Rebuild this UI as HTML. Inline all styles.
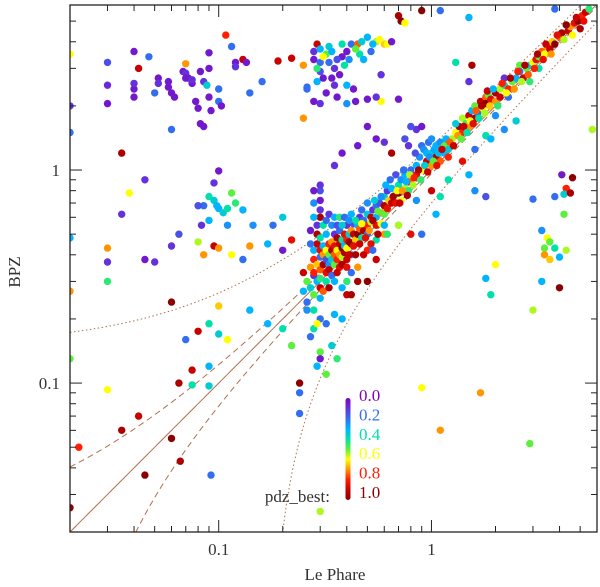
<!DOCTYPE html>
<html><head><meta charset="utf-8">
<style>
html,body{margin:0;padding:0;background:#fff;width:600px;height:587px;overflow:hidden;}
svg{display:block;font-family:"Liberation Serif",serif;}
</style></head>
<body>
<svg id="chart" width="600" height="587" viewBox="0 0 600 587" xmlns="http://www.w3.org/2000/svg">
<g id="lines"></g>
<g id="pts"></g>
<g id="axes"></g>
<g id="cbar"></g>
<text x="335" y="580" font-size="17" text-anchor="middle" fill="#333">Le Phare</text>
<text x="0" y="0" font-size="17" text-anchor="middle" fill="#333" transform="translate(20,272) rotate(-90)">BPZ</text>
</svg>
<script>
// axis ranges
const xDomain = [0.02, 6.0];
const yDomain = [0.02, 5.95];
const xMajorTicks = [0.1, 1];
const xTickLabels = ["0.1", "1"];
const yMajorTicks = [0.1, 1];
const yTickLabels = ["0.1", "1"];
const minorTicks = [0.02,0.03,0.04,0.05,0.06,0.07,0.08,0.09,0.2,0.3,0.4,0.5,0.6,0.7,0.8,0.9,2,3,4,5];
const cbarValues = [0.0, 0.2, 0.4, 0.6, 0.8, 1.0];
const cbarLabels = ["0.0","0.2","0.4","0.6","0.8","1.0"];

// data: [LePhare z, BPZ z, pdz_best]
const edgePoints = [[0.02,3.5,0.6],[0.02,2.0,0.1],[0.02,1.5,0.2],[0.02,0.48,0.3],[0.02,0.27,0.7],[0.02,0.13,0.5],[0.02,0.026,1.0],[0.03,0.43,0.7],[0.03,0.37,0.1],[0.03,0.3,0.45],[0.03,0.093,0.6]];
const topLeftCluster = [[0.03,2.5,0.08],[0.03,2.05,0.05],[0.03,3.2,0.15],[0.04,2.4,0.05],[0.04,2.55,0.1],[0.04,2.2,0.05],[0.04,3.6,0.05],[0.042,3.0,0.9],[0.047,3.4,0.2],[0.05,2.3,0.2],[0.052,2.7,0.05],[0.052,2.55,0.1],[0.058,2.6,0.05],[0.058,2.45,0.05],[0.06,2.3,0.05],[0.062,2.2,0.05],[0.068,2.9,0.05],[0.07,2.85,0.1],[0.07,2.7,0.05],[0.072,2.7,0.05],[0.075,2.55,0.05],[0.075,2.65,0.1],[0.07,3.15,0.7],[0.078,2.1,0.05],[0.08,1.95,0.05],[0.082,1.65,0.05],[0.085,1.6,0.05],[0.082,2.9,0.05],[0.085,2.6,0.1],[0.088,2.5,0.35],[0.09,3.0,0.05],[0.09,3.55,0.05],[0.09,2.2,0.05],[0.092,1.9,0.05],[0.1,2.4,0.2],[0.1,2.1,0.2],[0.103,2.0,0.05],[0.06,1.55,0.2],[0.108,4.3,0.8],[0.115,3.8,0.2],[0.13,3.3,0.9],[0.12,3.2,0.05],[0.135,3.2,0.05],[0.14,2.3,0.2],[0.16,2.6,0.2],[0.19,3.25,0.9],[0.22,3.35,0.9],[0.25,3.1,0.7],[0.26,2.45,0.2],[0.25,1.75,0.7],[0.12,3.05,0.1]];
const midLeftCluster = [[0.09,0.75,0.4],[0.095,0.72,0.35],[0.098,0.68,0.3],[0.1,0.66,0.3],[0.105,0.63,0.35],[0.11,0.66,0.4],[0.115,0.78,0.5],[0.12,0.7,0.45],[0.13,0.65,0.3],[0.085,0.68,0.2],[0.08,0.68,0.15],[0.095,0.87,0.1],[0.1,0.99,0.05],[0.09,0.58,0.3],[0.083,0.55,0.1],[0.11,0.55,0.25],[0.145,0.55,0.25],[0.065,0.5,0.15],[0.08,0.46,0.55],[0.095,0.44,0.9],[0.1,0.43,0.7],[0.085,0.4,0.7],[0.06,0.44,0.1],[0.05,0.37,0.1],[0.045,0.38,0.05],[0.035,0.62,0.1],[0.045,0.9,0.1],[0.035,1.2,0.95],[0.038,0.78,0.6],[0.115,0.4,0.6],[0.13,0.38,0.2],[0.14,0.44,0.7],[0.06,0.24,1.0],[0.1,0.23,0.65],[0.18,0.55,0.2],[0.2,0.6,0.35],[0.17,0.45,0.3],[0.2,0.42,0.05],[0.22,0.47,0.85]];
const lowerLeft = [[0.09,0.19,0.4],[0.08,0.175,0.9],[0.1,0.17,0.35],[0.07,0.16,0.2],[0.11,0.16,0.6],[0.09,0.12,0.3],[0.075,0.098,0.4],[0.09,0.097,0.35],[0.075,0.115,0.9],[0.065,0.1,0.95],[0.042,0.07,0.9],[0.035,0.06,0.95],[0.06,0.055,1.0],[0.045,0.037,1.0],[0.022,0.05,0.8],[0.066,0.043,0.95],[0.092,0.037,0.2],[0.14,0.22,0.3],[0.17,0.19,0.3],[0.2,0.18,0.4],[0.22,0.15,0.5]];
const mainBand = [[0.25,0.27,0.3],[0.25,0.33,0.9],[0.26,0.3,0.5],[0.26,0.24,0.2],[0.27,0.35,0.7],[0.27,0.28,0.35],[0.28,0.42,0.3],[0.28,0.38,0.8],[0.28,0.32,0.1],[0.28,0.26,0.5],[0.29,0.45,0.9],[0.29,0.5,0.95],[0.29,0.55,0.1],[0.29,0.36,0.65],[0.29,0.3,0.3],[0.3,0.6,0.95],[0.3,0.65,0.1],[0.3,0.48,0.4],[0.3,0.42,0.85],[0.3,0.39,0.2],[0.3,0.34,0.75],[0.3,0.31,0.45],[0.3,0.28,0.9],[0.3,0.25,0.3],[0.31,0.4,0.7],[0.31,0.44,0.3],[0.31,0.36,0.95],[0.32,0.42,0.6],[0.32,0.38,0.15],[0.32,0.33,0.85],[0.32,0.3,0.4],[0.33,0.45,0.8],[0.33,0.4,0.5],[0.33,0.36,0.25],[0.33,0.34,0.9],[0.34,0.46,0.7],[0.34,0.42,0.95],[0.34,0.38,0.35],[0.34,0.32,0.2],[0.35,0.5,0.1],[0.35,0.44,0.85],[0.35,0.4,0.75],[0.35,0.36,0.5],[0.35,0.3,0.3],[0.36,0.48,0.95],[0.36,0.42,0.6],[0.36,0.38,0.8],[0.37,0.52,0.2],[0.37,0.45,0.9],[0.37,0.4,0.7],[0.37,0.35,0.85],[0.38,0.47,0.4],[0.38,0.43,1.0],[0.38,0.39,0.55],[0.39,0.5,0.85],[0.39,0.44,0.3],[0.39,0.41,0.95],[0.4,0.55,0.1],[0.4,0.47,0.8],[0.4,0.43,0.6],[0.4,0.38,0.9],[0.41,0.5,0.35],[0.41,0.46,0.95],[0.42,0.52,0.7],[0.42,0.45,1.0],[0.42,0.4,0.25],[0.43,0.56,0.15],[0.43,0.5,0.9],[0.44,0.47,0.65],[0.45,0.55,0.3],[0.45,0.5,1.0],[0.46,0.6,0.1],[0.46,0.53,0.75],[0.47,0.48,0.4],[0.48,0.58,0.2],[0.48,0.52,0.95],[0.5,0.62,0.35],[0.5,0.55,0.8],[0.5,0.5,0.2],[0.52,0.6,0.9],[0.52,0.57,0.55],[0.53,0.65,0.1],[0.55,0.6,0.3],[0.55,0.68,0.2],[0.55,0.55,0.85],[0.57,0.7,0.15],[0.58,0.63,0.7],[0.6,0.75,0.35],[0.6,0.68,0.95],[0.6,0.62,0.5],[0.62,0.8,0.1],[0.63,0.72,0.65],[0.65,0.7,0.9],[0.65,0.82,0.3],[0.67,0.76,0.5],[0.68,0.7,0.85],[0.7,0.85,0.4],[0.7,0.78,1.0],[0.72,0.72,0.6],[0.72,0.9,0.25],[0.75,0.82,0.55],[0.75,0.95,0.3],[0.78,0.88,0.9],[0.78,0.8,0.45],[0.8,1.0,0.2],[0.8,0.9,0.75],[0.82,0.85,0.55],[0.85,1.05,0.3],[0.85,0.95,0.85],[0.88,1.15,0.25],[0.9,1.0,0.6],[0.9,1.3,0.2],[0.92,1.25,0.25],[0.95,1.1,0.9],[0.95,1.2,0.3],[0.97,1.35,0.2],[1.0,1.2,0.35],[1.0,1.05,0.7],[1.0,1.4,0.25],[1.03,1.25,0.28],[1.05,1.15,0.95],[1.05,1.3,0.3],[1.08,1.2,0.32],[1.1,1.1,0.75],[1.1,1.35,0.25],[1.15,1.2,0.3],[1.15,1.3,0.5],[1.2,1.25,0.35],[1.2,1.15,0.8],[1.25,1.4,0.55],[1.3,1.5,0.6],[0.85,1.55,0.1],[0.8,1.6,0.15],[0.9,1.6,0.05],[0.75,1.4,0.15],[0.78,1.3,0.1],[1.35,1.6,0.95],[1.4,1.5,0.8],[1.4,1.75,0.55],[1.45,1.65,0.45],[1.5,1.8,0.9],[1.5,1.6,0.7],[1.55,1.9,0.3],[1.6,1.75,0.95],[1.6,2.0,0.5],[1.65,1.85,0.2],[1.7,2.1,0.9],[1.75,1.95,0.6],[1.8,2.2,0.75],[1.8,2.05,1.0],[1.85,2.25,0.5],[1.9,2.15,0.85],[2.0,2.3,0.95],[2.0,2.1,0.7],[2.1,2.4,0.55],[2.1,2.2,0.9],[2.2,2.5,0.4],[2.3,2.4,0.8],[2.4,2.6,0.5],[2.5,2.7,0.3],[2.6,2.9,0.2],[2.7,2.7,0.9],[2.8,3.0,0.5],[2.9,3.1,0.35],[3.0,3.2,0.6],[3.1,3.3,0.85],[3.2,3.4,0.5],[3.3,3.6,0.75],[3.4,3.5,0.6],[3.5,3.8,0.7],[3.6,3.7,0.9],[3.7,4.0,0.65],[3.8,3.9,1.0],[4.0,4.2,0.75],[4.1,4.4,0.95],[4.2,4.1,0.55],[4.4,4.5,0.9],[4.5,4.7,0.7],[4.7,4.9,0.85],[4.9,5.0,1.0],[5.1,5.3,0.8],[5.3,5.5,0.9],[5.5,5.7,0.45],[3.2,3.0,0.4],[2.9,2.6,0.45],[4.6,4.3,0.6],[5.0,4.6,0.95],[0.37,0.35,0.85],[0.45,0.3,0.95],[0.5,0.3,1.0],[0.55,0.38,0.9],[0.28,0.33,0.8],[0.26,0.22,0.25],[0.38,0.28,0.3],[0.4,0.3,0.45],[0.42,0.33,0.2],[0.45,0.35,0.7],[0.5,0.42,0.8],[0.55,0.47,0.4],[0.7,0.55,0.55],[0.6,0.5,0.7]];
const bandExtra = [[0.27,0.45,0.2],[0.27,0.52,0.05],[0.28,0.6,0.3],[0.28,0.7,0.25],[0.28,0.8,0.05],[0.28,0.22,0.4],[0.29,0.19,0.6],[0.3,0.72,0.05],[0.3,0.85,0.1],[0.31,0.55,0.4],[0.31,0.27,0.75],[0.32,0.5,0.3],[0.32,0.58,0.2],[0.33,0.62,0.1],[0.33,0.28,0.95],[0.34,0.55,0.25],[0.35,0.6,0.3],[0.36,0.55,0.15],[0.36,0.33,0.9],[0.37,0.6,0.45],[0.38,0.55,0.35],[0.38,0.36,0.95],[0.39,0.6,0.2],[0.4,0.35,0.85],[0.41,0.58,0.25],[0.41,0.4,0.9],[0.42,0.62,0.3],[0.43,0.44,0.85],[0.44,0.58,0.4],[0.44,0.4,0.95],[0.46,0.45,0.9],[0.47,0.65,0.2],[0.47,0.56,0.6],[0.49,0.48,0.85],[0.5,0.7,0.25],[0.51,0.52,0.7],[0.53,0.58,0.95],[0.54,0.72,0.35],[0.56,0.64,0.5],[0.58,0.75,0.25],[0.58,0.56,0.6],[0.61,0.85,0.3],[0.62,0.66,0.85],[0.64,0.9,0.2],[0.66,0.75,0.95],[0.68,0.95,0.15],[0.69,0.8,0.6],[0.71,0.7,0.9],[0.73,0.8,0.7],[0.74,1.0,0.2],[0.76,0.88,0.3],[0.77,0.76,0.95],[0.79,0.95,0.55],[0.83,0.92,0.8],[0.84,1.2,0.15],[0.87,1.0,0.95],[0.89,0.9,0.45],[0.93,1.05,0.35],[0.96,0.98,0.9],[0.98,1.15,0.25],[1.02,1.1,0.5],[1.06,1.05,0.85],[1.12,1.25,0.9],[1.17,1.4,0.3],[1.22,1.35,0.75],[1.27,1.3,0.9],[1.3,1.65,0.35],[1.33,1.45,0.7],[1.38,1.4,0.5],[1.42,1.6,0.9],[1.47,1.5,0.4],[1.52,1.7,0.6],[1.57,1.65,0.85],[1.62,1.9,0.75],[1.67,1.75,0.4],[1.72,2.0,0.95],[1.78,1.85,0.55],[1.83,2.35,0.9],[1.88,2.0,0.65],[1.95,2.4,0.3],[2.05,2.0,0.45],[2.15,2.55,0.8],[2.25,2.3,0.6],[2.35,2.7,0.95],[2.45,2.4,0.7],[2.55,2.9,0.8],[2.65,2.6,0.55],[2.75,3.1,0.95],[2.85,2.8,0.75],[3.05,3.0,0.8],[3.15,3.5,0.95],[3.35,3.3,0.85],[3.45,3.9,0.9],[3.65,3.5,0.7],[3.9,4.3,0.85],[4.3,4.8,1.0],[4.8,5.2,0.9],[5.2,5.0,0.85],[0.52,0.45,0.85],[0.56,0.5,0.95],[0.6,0.55,0.3],[0.62,0.5,0.45],[0.48,0.4,0.9],[0.53,0.42,0.2]];
const topCluster = [[0.28,3.3,0.05],[0.28,3.6,0.1],[0.29,3.9,0.9],[0.3,3.7,0.3],[0.3,3.2,0.2],[0.3,2.9,0.15],[0.31,2.7,0.05],[0.32,3.5,0.5],[0.33,3.2,0.2],[0.33,3.8,0.35],[0.34,2.7,0.05],[0.35,2.5,0.1],[0.35,3.0,0.1],[0.36,2.2,0.05],[0.38,3.9,0.4],[0.38,3.4,0.05],[0.4,3.6,0.05],[0.4,2.5,0.3],[0.42,3.9,0.2],[0.43,2.4,0.05],[0.44,2.1,0.05],[0.45,3.9,0.75],[0.46,3.5,0.4],[0.48,3.3,0.3],[0.5,4.2,0.3],[0.52,3.6,0.2],[0.55,4.0,0.55],[0.58,2.8,0.1],[0.58,2.1,0.6],[0.6,3.9,0.65],[0.62,3.9,0.6],[0.65,4.0,0.05],[0.28,2.1,0.05],[0.3,2.05,0.1],[0.26,2.4,0.2],[0.4,2.05,0.25],[0.5,2.15,0.05],[0.55,2.2,0.1],[0.7,5.3,0.95],[0.72,5.0,1.0],[0.75,4.9,0.6],[0.9,5.6,1.0],[1.3,3.2,0.4],[1.55,3.1,0.95],[2.2,2.7,0.1],[1.5,2.6,0.1],[0.7,2.15,0.05],[0.55,1.4,0.05],[0.6,1.35,0.1],[0.65,1.2,0.95],[0.5,1.6,0.05],[0.45,1.3,0.05],[0.38,1.2,0.05],[0.35,1.05,0.1],[0.3,0.8,0.15],[0.29,3.0,0.45],[0.31,3.4,0.6],[0.34,3.6,0.3],[0.36,3.3,0.15],[0.37,2.8,0.05],[0.39,3.1,0.4],[0.41,3.3,0.25],[0.44,3.7,0.5],[0.47,4.0,0.35],[0.53,3.9,0.3],[0.57,4.1,0.6],[0.32,2.3,0.05],[0.29,2.6,0.3]];
const rightScatter = [[4.1,0.95,0.05],[4.6,0.92,1.0],[4.3,0.82,0.8],[4.2,0.77,0.35],[4.5,0.78,0.95],[3.8,0.75,0.2],[3.0,0.73,0.2],[4.2,0.62,0.5],[3.3,0.52,0.25],[3.5,0.48,0.6],[3.6,0.46,0.5],[3.8,0.43,0.4],[3.4,0.43,0.5],[4.3,0.42,0.55],[3.4,0.4,0.7],[4.0,0.39,0.3],[3.6,0.38,0.65],[3.3,0.3,0.3],[4.0,0.28,1.0],[3.0,0.22,0.55],[1.9,0.26,0.4],[1.8,0.31,0.3],[2.0,0.36,0.6],[1.7,0.09,0.7],[1.1,0.06,0.7],[2.9,0.052,0.5],[0.9,0.095,0.6],[0.62,0.017,0.8],[0.3,0.025,0.55],[0.24,0.1,1.0],[0.24,0.09,0.2],[0.24,0.072,0.2],[5.7,1.55,0.55],[2.6,3.1,0.5],[2.3,2.2,0.2],[2.5,1.7,0.35],[2.2,1.55,0.25],[2.0,1.8,0.25],[1.8,1.45,0.4],[1.9,1.4,0.3],[1.5,0.95,0.3],[1.6,0.8,0.25],[1.4,1.1,0.85],[1.2,0.9,0.4],[1.8,0.75,0.15],[1.6,1.25,0.2],[1.1,0.75,0.4],[1.05,0.62,0.3],[0.9,0.5,0.2],[0.8,0.5,0.85],[0.85,0.72,0.25],[1.0,0.8,0.9],[0.7,0.55,0.45],[0.35,0.21,0.3],[0.38,0.2,0.3],[0.4,0.26,0.9],[0.42,0.26,0.95],[0.32,0.19,0.2],[0.3,0.2,0.2],[0.34,0.15,0.35],[0.28,0.18,0.4],[0.3,0.14,0.5],[0.32,0.11,0.5],[0.3,0.13,0.05],[0.29,0.12,0.3],[0.27,0.165,0.2],[0.36,0.13,0.45],[1.5,5.2,0.3],[1.1,5.6,0.2],[3.8,5.7,0.2]];

const L = 70, R = 597, T = 5, B = 532;
const NS = "http://www.w3.org/2000/svg";
function xs(v){ return L + (Math.log10(v) - Math.log10(xDomain[0])) / (Math.log10(xDomain[1]) - Math.log10(xDomain[0])) * (R - L); }
function ys(v){ return B - (Math.log10(v) - Math.log10(yDomain[0])) / (Math.log10(yDomain[1]) - Math.log10(yDomain[0])) * (B - T); }
function mk(tag, attrs, parent){ const e = document.createElementNS(NS, tag); for (const k in attrs) e.setAttribute(k, attrs[k]); parent.appendChild(e); return e; }
const stops = [[0,[128,0,192]],[0.1,[100,50,220]],[0.2,[50,110,240]],[0.3,[0,180,255]],[0.4,[0,225,170]],[0.5,[90,240,60]],[0.6,[255,255,0]],[0.7,[255,150,0]],[0.8,[255,30,0]],[0.9,[200,0,0]],[1.0,[139,0,0]]];
function color(p){ p = Math.max(0, Math.min(1, p)); for (let i = 0; i < stops.length - 1; i++){ const a = stops[i], b = stops[i+1]; if (p <= b[0]){ const t = (p - a[0]) / (b[0] - a[0]); const c = a[1].map((v,j) => Math.round(v + (b[1][j] - v) * t)); return "rgb(" + c.join(",") + ")"; } } return "rgb(139,0,0)"; }

const defs = mk("defs", {}, document.getElementById("chart"));
const cp = mk("clipPath", {id:"clip"}, defs);
mk("rect", {x:L, y:T, width:R-L, height:B-T}, cp);

const lg = document.getElementById("lines");
lg.setAttribute("clip-path", "url(#clip)");
function curve(f, dash, name){
  let d = "";
  for (let i = 0; i <= 300; i++){
    const lx = Math.log10(xDomain[0]) + i/300*(Math.log10(xDomain[1]) - Math.log10(xDomain[0]));
    const x = Math.pow(10, lx), y = f(x);
    if (y <= 0) continue;
    d += (d ? "L" : "M") + xs(x).toFixed(2) + "," + ys(y).toFixed(2);
  }
  const p = mk("path", {d:d, fill:"none", stroke:"#b0704a", "stroke-width":1, "stroke-dasharray":dash}, lg);
  
  
}
curve(x => x, "none", "one-to-one-line");
curve(x => x + 0.02*(1+x), "6,4", "upper-dashed-line");
curve(x => x - 0.02*(1+x), "6,4", "lower-dashed-line");
curve(x => x + 0.15*(1+x), "1.5,2.5", "upper-dotted-line");
curve(x => x - 0.15*(1+x), "1.5,2.5", "lower-dotted-line");

const pg = document.getElementById("pts");
pg.setAttribute("clip-path", "url(#clip)");
const allSets = [edgePoints, topLeftCluster, midLeftCluster, lowerLeft, topCluster, rightScatter, mainBand, bandExtra];
allSets.forEach(set => set.forEach(d => {
  const c = mk("circle", {cx:xs(d[0]).toFixed(1), cy:ys(d[1]).toFixed(1), r:3.7, fill:color(d[2])}, pg);
  
  
}));

const ag = document.getElementById("axes");
const frame = mk("rect", {x:L, y:T, width:R-L, height:B-T, fill:"none", stroke:"#222", "stroke-width":1.3}, ag);


function ticks(list, len){
  list.forEach(v => {
    if (v > xDomain[0] && v < xDomain[1]){
      const x = xs(v);
      mk("line", {x1:x, y1:B, x2:x, y2:B-len, stroke:"#222"}, ag);
      mk("line", {x1:x, y1:T, x2:x, y2:T+len, stroke:"#222"}, ag);
    }
    if (v > yDomain[0] && v < yDomain[1]){
      const y = ys(v);
      mk("line", {x1:L, y1:y, x2:L+len, y2:y, stroke:"#222"}, ag);
      mk("line", {x1:R, y1:y, x2:R-len, y2:y, stroke:"#222"}, ag);
    }
  });
}
ticks(minorTicks, 6);
ticks(xMajorTicks, 12);
xMajorTicks.forEach((v,i) => {
  const t = mk("text", {x:xs(v), y:555, "font-size":17, "text-anchor":"middle", fill:"#333"}, ag);
  t.textContent = xTickLabels[i];
  
  
});
yMajorTicks.forEach((v,i) => {
  const t = mk("text", {x:60, y:ys(v)+6, "font-size":17, "text-anchor":"end", fill:"#333"}, ag);
  t.textContent = yTickLabels[i];
  
  
});

const cg = document.getElementById("cbar");
const grad = mk("linearGradient", {id:"cgrad", x1:0, y1:0, x2:0, y2:1}, defs);
for (let i = 0; i <= 10; i++) mk("stop", {offset:i/10, "stop-color":color(i/10)}, grad);
const bar = mk("rect", {x:345.5, y:398, width:5, height:102, rx:2.5, fill:"url(#cgrad)"}, cg);


cbarValues.forEach((v,i) => {
  const t = mk("text", {x:359, y:401 + v*97, "font-size":17, fill:color(v)}, cg);
  t.textContent = cbarLabels[i];
  
  
});
const pt = mk("text", {x:330, y:502, "font-size":17, "text-anchor":"end", fill:"#333"}, cg);
pt.textContent = "pdz_best:";


</script>
</body></html>
